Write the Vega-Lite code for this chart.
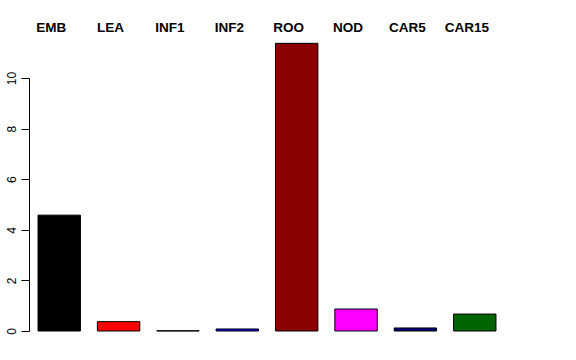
{
  "$schema": "https://vega.github.io/schema/vega-lite/v6.json",
  "autosize": "none",
  "width": 476,
  "height": 253,
  "padding": {"left": 29, "top": 78, "right": 71, "bottom": 29},
  "background": "white",
  "config": {"view": {"stroke": null}},
  "data": {"values": [
    {"tissue": "EMB", "value": 4.58},
    {"tissue": "LEA", "value": 0.37},
    {"tissue": "INF1", "value": 0.01},
    {"tissue": "INF2", "value": 0.08},
    {"tissue": "ROO", "value": 11.37},
    {"tissue": "NOD", "value": 0.87},
    {"tissue": "CAR5", "value": 0.12},
    {"tissue": "CAR15", "value": 0.67}
  ]},
  "mark": {"type": "bar", "stroke": "black", "strokeWidth": 1, "clip": false},
  "encoding": {
    "x": {
      "field": "tissue", "type": "nominal", "sort": null,
      "scale": {"paddingInner": 0.2857, "paddingOuter": 0.152},
      "axis": {"orient": "top", "title": null, "domain": false, "ticks": false, "tickSize": 0,
               "labelPadding": 44, "labelAngle": 0, "labelFont": "Liberation Sans",
               "labelFontWeight": "bold", "labelFontSize": 13.5, "labelColor": "black",
               "labelOffset": -8}
    },
    "y": {
      "field": "value", "type": "quantitative",
      "scale": {"domain": [0, 10], "nice": false, "zero": true},
      "axis": {"title": null, "values": [0, 2, 4, 6, 8, 10], "grid": false, "domain": true,
               "domainColor": "black", "tickSize": 8, "tickColor": "black", "labelAngle": -90,
               "labelPadding": 3, "labelFont": "Liberation Sans", "labelFontSize": 12,
               "labelColor": "black"}
    },
    "color": {
      "field": "tissue", "type": "nominal", "legend": null,
      "scale": {
        "domain": ["EMB", "LEA", "INF1", "INF2", "ROO", "NOD", "CAR5", "CAR15"],
        "range": ["#000000", "#FF0000", "#00CD00", "#0000FF", "#8B0000", "#FF00FF", "#000080", "#006400"]
      }
    }
  }
}
